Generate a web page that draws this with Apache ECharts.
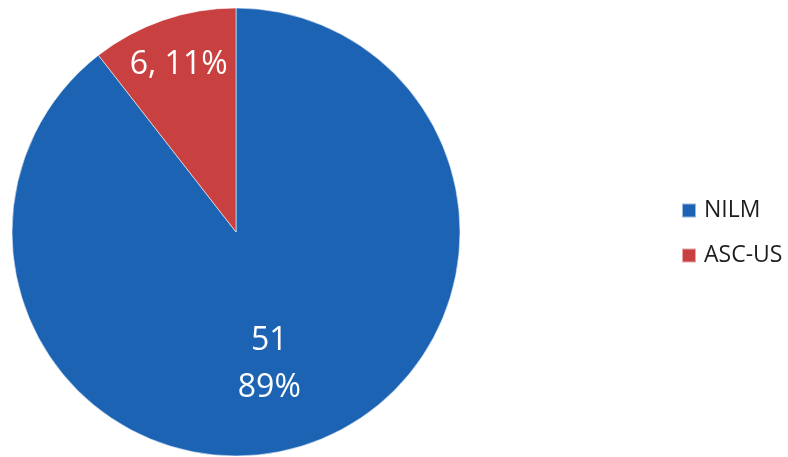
<!DOCTYPE html>
<html>
<head>
<meta charset="utf-8">
<script src="https://cdn.jsdelivr.net/npm/echarts@6/dist/echarts.min.js"></script>
<style>html,body{margin:0;padding:0;background:#fff;}#c{width:788px;height:457px;}</style>
</head>
<body>
<div id="c"></div>
<script>
const categories = ['NILM', 'ASC-US'];
const counts = [51, 6];
const colors = ['#1c63b3', '#c8403f'];
const labelOffsets = [[-4, 24], [-20, -58]];

const chart = echarts.init(document.getElementById('c'), null, {renderer: 'canvas'});
chart.setOption({
  backgroundColor: '#ffffff',
  animation: false,
  legend: {
    orient: 'vertical',
    left: 681,
    top: 199,
    padding: 0,
    itemWidth: 14,
    itemHeight: 14,
    itemGap: 22,
    icon: 'rect',
    textStyle: {fontFamily: 'Open Sans', fontSize: 23, color: '#1e1e1e', lineHeight: 23, padding: [0,0,0,3]},
    data: categories
  },
  series: [{
    type: 'pie',
    center: [236, 232],
    radius: [0, 224],
    startAngle: 90,
    clockwise: true,
    percentPrecision: 0,
    itemStyle: {borderColor: 'rgba(255,255,255,0.55)', borderWidth: 1},
    label: {
      position: 'inside',
      color: '#fff',
      fontFamily: 'Open Sans',
      fontSize: 32,
      lineHeight: 47
    },
    labelLine: {show: false},
    data: categories.map((c, i) => ({
      name: c,
      value: counts[i],
      itemStyle: {color: colors[i]},
      label: {
        offset: labelOffsets[i],
        formatter: i === 0 ? '{c}\n{d}%' : '{c}, {d}%'
      }
    }))
  }]
});
</script>
</body>
</html>
